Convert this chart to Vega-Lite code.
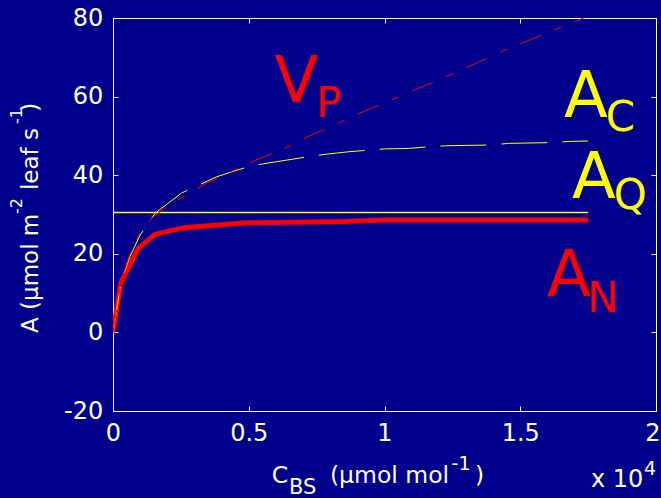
{
  "$schema": "https://vega.github.io/schema/vega-lite/v6.json",
  "width": 543,
  "height": 393,
  "autosize": {"type": "none"},
  "padding": {"left": 113, "top": 18, "right": 5, "bottom": 87},
  "background": "#00008C",
  "config": {
    "view": {"stroke": "white", "strokeWidth": 1},
    "axis": {
      "grid": false,
      "title": null,
      "labelFont": "DejaVu Sans",
      "labelFontSize": 24,
      "labelColor": "white",
      "labelFlush": false,
      "labelOverlap": false,
      "tickColor": "white",
      "domainColor": "white",
      "tickSize": -5,
      "tickWidth": 1,
      "domainWidth": 1
    }
  },
  "datasets": {
    "curves": [
      {"s": "AN", "x": 0, "y": 0}, {"s": "AN", "x": 283, "y": 12.5}, {"s": "AN", "x": 932, "y": 21.4},
      {"s": "AN", "x": 1547, "y": 24.95}, {"s": "AN", "x": 2589, "y": 26.6}, {"s": "AN", "x": 4924, "y": 27.9},
      {"s": "AN", "x": 8500, "y": 28.2}, {"s": "AN", "x": 10000, "y": 28.6}, {"s": "AN", "x": 17500, "y": 28.6},
      {"s": "AQ", "x": 0, "y": 30.5}, {"s": "AQ", "x": 17500, "y": 30.5},
      {"s": "AC", "x": 0, "y": 0}, {"s": "AC", "x": 300, "y": 13}, {"s": "AC", "x": 626, "y": 19.3},
      {"s": "AC", "x": 1000, "y": 24.8}, {"s": "AC", "x": 1179, "y": 26.5}, {"s": "AC", "x": 1547, "y": 30.3},
      {"s": "AC", "x": 2530, "y": 35.5}, {"s": "AC", "x": 2899, "y": 36.6}, {"s": "AC", "x": 3389, "y": 38.2},
      {"s": "AC", "x": 3819, "y": 39.6}, {"s": "AC", "x": 4984, "y": 42.2}, {"s": "AC", "x": 5537, "y": 42.9},
      {"s": "AC", "x": 7194, "y": 44.7}, {"s": "AC", "x": 7808, "y": 45.3}, {"s": "AC", "x": 8729, "y": 46.0},
      {"s": "AC", "x": 9466, "y": 46.4}, {"s": "AC", "x": 10018, "y": 46.7}, {"s": "AC", "x": 10877, "y": 46.8},
      {"s": "AC", "x": 11737, "y": 47.3}, {"s": "AC", "x": 12290, "y": 47.5}, {"s": "AC", "x": 14007, "y": 47.7},
      {"s": "AC", "x": 14560, "y": 48.1}, {"s": "AC", "x": 16218, "y": 48.3}, {"s": "AC", "x": 16808, "y": 48.6},
      {"s": "AC", "x": 17500, "y": 48.7},
      {"s": "VP", "x": 0, "y": 0}, {"s": "VP", "x": 300, "y": 13}, {"s": "VP", "x": 688, "y": 21.4},
      {"s": "VP", "x": 1056, "y": 26.0}, {"s": "VP", "x": 1485, "y": 29.4}, {"s": "VP", "x": 2162, "y": 32.8},
      {"s": "VP", "x": 2899, "y": 35.8}, {"s": "VP", "x": 3389, "y": 37.75}, {"s": "VP", "x": 4862, "y": 42.6},
      {"s": "VP", "x": 5414, "y": 44.3}, {"s": "VP", "x": 6212, "y": 46.4}, {"s": "VP", "x": 6703, "y": 48.3},
      {"s": "VP", "x": 7502, "y": 50.8}, {"s": "VP", "x": 8238, "y": 53.0}, {"s": "VP", "x": 8790, "y": 54.9},
      {"s": "VP", "x": 12413, "y": 65.5}, {"s": "VP", "x": 14463, "y": 71.9}, {"s": "VP", "x": 16562, "y": 77.8},
      {"s": "VP", "x": 17500, "y": 80.5}
    ],
    "bigRed": [{"t": "V", "x": 5945, "y": 58.63}, {"t": "A", "x": 15985, "y": 9.26}],
    "subRed": [{"t": "P", "x": 7473, "y": 54.8}, {"t": "N", "x": 17455, "y": 5.19}],
    "bigYellow": [{"t": "A", "x": 16611, "y": 54.8}, {"t": "A", "x": 16906, "y": 34.2}],
    "subYellow": [{"t": "C", "x": 18147, "y": 51.25}, {"t": "Q", "x": 18442, "y": 31.4}],
    "xTitleMain": [{"t": "C", "x": 5845, "y": -38.32}, {"t": "(μmol mol", "x": 7989, "y": -38.32}, {"t": ")", "x": 13330, "y": -38.32}],
    "xTitleSub": [{"t": "BS", "x": 6479, "y": -41.12}],
    "xTitleSup": [{"t": "-1", "x": 12471, "y": -35.01}, {"t": "4", "x": 19558, "y": -36.29}],
    "xExp": [{"t": "x 10", "x": 17606, "y": -39.34}],
    "yTitleMain": [{"t": "A (μmol m", "x": -2762, "y": -0.15}, {"t": "leaf s", "x": -2762, "y": 36.23}, {"t": ")", "x": -2762, "y": 56.13}],
    "yTitleSup": [{"t": "-2", "x": -3363, "y": 30.13}, {"t": "-1", "x": -3363, "y": 53.03}]
  },
  "resolve": {"axis": {"x": "independent", "y": "independent"}},
  "layer": [
    {
      "data": {"name": "curves"},
      "transform": [{"filter": "datum.s === 'AN'"}],
      "mark": {"type": "line", "color": "#FF0000", "strokeWidth": 5, "strokeJoin": "round", "strokeCap": "butt", "clip": true},
      "encoding": {
        "x": {"field": "x", "type": "quantitative", "scale": {"domain": [0, 20000], "nice": false, "zero": false},
              "axis": {"orient": "bottom", "values": [0, 5000, 10000, 15000, 20000], "labelExpr": "'' + datum.value / 10000", "labelPadding": 15.5,
                       "labelAlign": {"condition": {"test": "datum.value >= 20000", "value": "right"}, "value": "center"},
                       "labelOffset": {"condition": {"test": "datum.value >= 20000", "value": 4}, "value": 0}}},
        "y": {"field": "y", "type": "quantitative", "scale": {"domain": [-20, 80], "nice": false, "zero": false},
              "axis": {"orient": "left", "values": [-20, 0, 20, 40, 60, 80], "labelExpr": "'' + datum.value", "labelPadding": 15.3}}
      }
    },
    {
      "data": {"name": "curves"},
      "transform": [{"filter": "datum.s === 'AQ'"}],
      "mark": {"type": "line", "color": "#FFFF00", "strokeWidth": 1.5, "clip": true},
      "encoding": {
        "x": {"field": "x", "type": "quantitative", "scale": {"domain": [0, 20000], "nice": false, "zero": false},
              "axis": {"orient": "top", "values": [0, 5000, 10000, 15000, 20000], "labels": false}},
        "y": {"field": "y", "type": "quantitative", "scale": {"domain": [-20, 80], "nice": false, "zero": false},
              "axis": {"orient": "right", "values": [-20, 0, 20, 40, 60, 80], "labels": false}}
      }
    },
    {
      "data": {"name": "curves"},
      "transform": [{"filter": "datum.s === 'AC'"}],
      "mark": {"type": "line", "color": "#FFFF00", "strokeWidth": 1, "strokeDash": [46, 15], "clip": true},
      "encoding": {
        "x": {"field": "x", "type": "quantitative", "scale": {"domain": [0, 20000], "nice": false, "zero": false}, "axis": null},
        "y": {"field": "y", "type": "quantitative", "scale": {"domain": [-20, 80], "nice": false, "zero": false}, "axis": null}
      }
    },
    {
      "data": {"name": "curves"},
      "transform": [{"filter": "datum.s === 'VP'"}],
      "mark": {"type": "line", "color": "#FF0000", "strokeWidth": 1, "strokeDash": [23, 14, 8, 14], "clip": true},
      "encoding": {
        "x": {"field": "x", "type": "quantitative", "scale": {"domain": [0, 20000], "nice": false, "zero": false}, "axis": null},
        "y": {"field": "y", "type": "quantitative", "scale": {"domain": [-20, 80], "nice": false, "zero": false}, "axis": null}
      }
    },
    {
      "data": {"name": "bigRed"},
      "mark": {"type": "text", "color": "#FF0000", "font": "DejaVu Sans", "fontSize": 64, "align": "left", "baseline": "alphabetic"},
      "encoding": {
        "x": {"field": "x", "type": "quantitative", "scale": {"domain": [0, 20000], "nice": false, "zero": false}, "axis": null},
        "y": {"field": "y", "type": "quantitative", "scale": {"domain": [-20, 80], "nice": false, "zero": false}, "axis": null},
        "text": {"field": "t"}
      }
    },
    {
      "data": {"name": "subRed"},
      "mark": {"type": "text", "color": "#FF0000", "font": "DejaVu Sans", "fontSize": 42, "align": "left", "baseline": "alphabetic"},
      "encoding": {
        "x": {"field": "x", "type": "quantitative", "scale": {"domain": [0, 20000], "nice": false, "zero": false}, "axis": null},
        "y": {"field": "y", "type": "quantitative", "scale": {"domain": [-20, 80], "nice": false, "zero": false}, "axis": null},
        "text": {"field": "t"}
      }
    },
    {
      "data": {"name": "bigYellow"},
      "mark": {"type": "text", "color": "#FFFF00", "font": "DejaVu Sans", "fontSize": 64, "align": "left", "baseline": "alphabetic"},
      "encoding": {
        "x": {"field": "x", "type": "quantitative", "scale": {"domain": [0, 20000], "nice": false, "zero": false}, "axis": null},
        "y": {"field": "y", "type": "quantitative", "scale": {"domain": [-20, 80], "nice": false, "zero": false}, "axis": null},
        "text": {"field": "t"}
      }
    },
    {
      "data": {"name": "subYellow"},
      "mark": {"type": "text", "color": "#FFFF00", "font": "DejaVu Sans", "fontSize": 42, "align": "left", "baseline": "alphabetic"},
      "encoding": {
        "x": {"field": "x", "type": "quantitative", "scale": {"domain": [0, 20000], "nice": false, "zero": false}, "axis": null},
        "y": {"field": "y", "type": "quantitative", "scale": {"domain": [-20, 80], "nice": false, "zero": false}, "axis": null},
        "text": {"field": "t"}
      }
    },
    {
      "data": {"name": "xTitleMain"},
      "mark": {"type": "text", "color": "white", "font": "DejaVu Sans", "fontSize": 23.5, "align": "left", "baseline": "alphabetic"},
      "encoding": {
        "x": {"field": "x", "type": "quantitative", "scale": {"domain": [0, 20000], "nice": false, "zero": false}, "axis": null},
        "y": {"field": "y", "type": "quantitative", "scale": {"domain": [-20, 80], "nice": false, "zero": false}, "axis": null},
        "text": {"field": "t"}
      }
    },
    {
      "data": {"name": "xTitleSub"},
      "mark": {"type": "text", "color": "white", "font": "DejaVu Sans", "fontSize": 21, "align": "left", "baseline": "alphabetic"},
      "encoding": {
        "x": {"field": "x", "type": "quantitative", "scale": {"domain": [0, 20000], "nice": false, "zero": false}, "axis": null},
        "y": {"field": "y", "type": "quantitative", "scale": {"domain": [-20, 80], "nice": false, "zero": false}, "axis": null},
        "text": {"field": "t"}
      }
    },
    {
      "data": {"name": "xTitleSup"},
      "mark": {"type": "text", "color": "white", "font": "DejaVu Sans", "fontSize": 19, "align": "left", "baseline": "alphabetic"},
      "encoding": {
        "x": {"field": "x", "type": "quantitative", "scale": {"domain": [0, 20000], "nice": false, "zero": false}, "axis": null},
        "y": {"field": "y", "type": "quantitative", "scale": {"domain": [-20, 80], "nice": false, "zero": false}, "axis": null},
        "text": {"field": "t"}
      }
    },
    {
      "data": {"name": "xExp"},
      "mark": {"type": "text", "color": "white", "font": "DejaVu Sans", "fontSize": 24, "align": "left", "baseline": "alphabetic"},
      "encoding": {
        "x": {"field": "x", "type": "quantitative", "scale": {"domain": [0, 20000], "nice": false, "zero": false}, "axis": null},
        "y": {"field": "y", "type": "quantitative", "scale": {"domain": [-20, 80], "nice": false, "zero": false}, "axis": null},
        "text": {"field": "t"}
      }
    },
    {
      "data": {"name": "yTitleMain"},
      "mark": {"type": "text", "color": "white", "font": "DejaVu Sans", "fontSize": 23, "align": "left", "baseline": "alphabetic", "angle": 270},
      "encoding": {
        "x": {"field": "x", "type": "quantitative", "scale": {"domain": [0, 20000], "nice": false, "zero": false}, "axis": null},
        "y": {"field": "y", "type": "quantitative", "scale": {"domain": [-20, 80], "nice": false, "zero": false}, "axis": null},
        "text": {"field": "t"}
      }
    },
    {
      "data": {"name": "yTitleSup"},
      "mark": {"type": "text", "color": "white", "font": "DejaVu Sans", "fontSize": 16, "align": "left", "baseline": "alphabetic", "angle": 270},
      "encoding": {
        "x": {"field": "x", "type": "quantitative", "scale": {"domain": [0, 20000], "nice": false, "zero": false}, "axis": null},
        "y": {"field": "y", "type": "quantitative", "scale": {"domain": [-20, 80], "nice": false, "zero": false}, "axis": null},
        "text": {"field": "t"}
      }
    }
  ]
}
